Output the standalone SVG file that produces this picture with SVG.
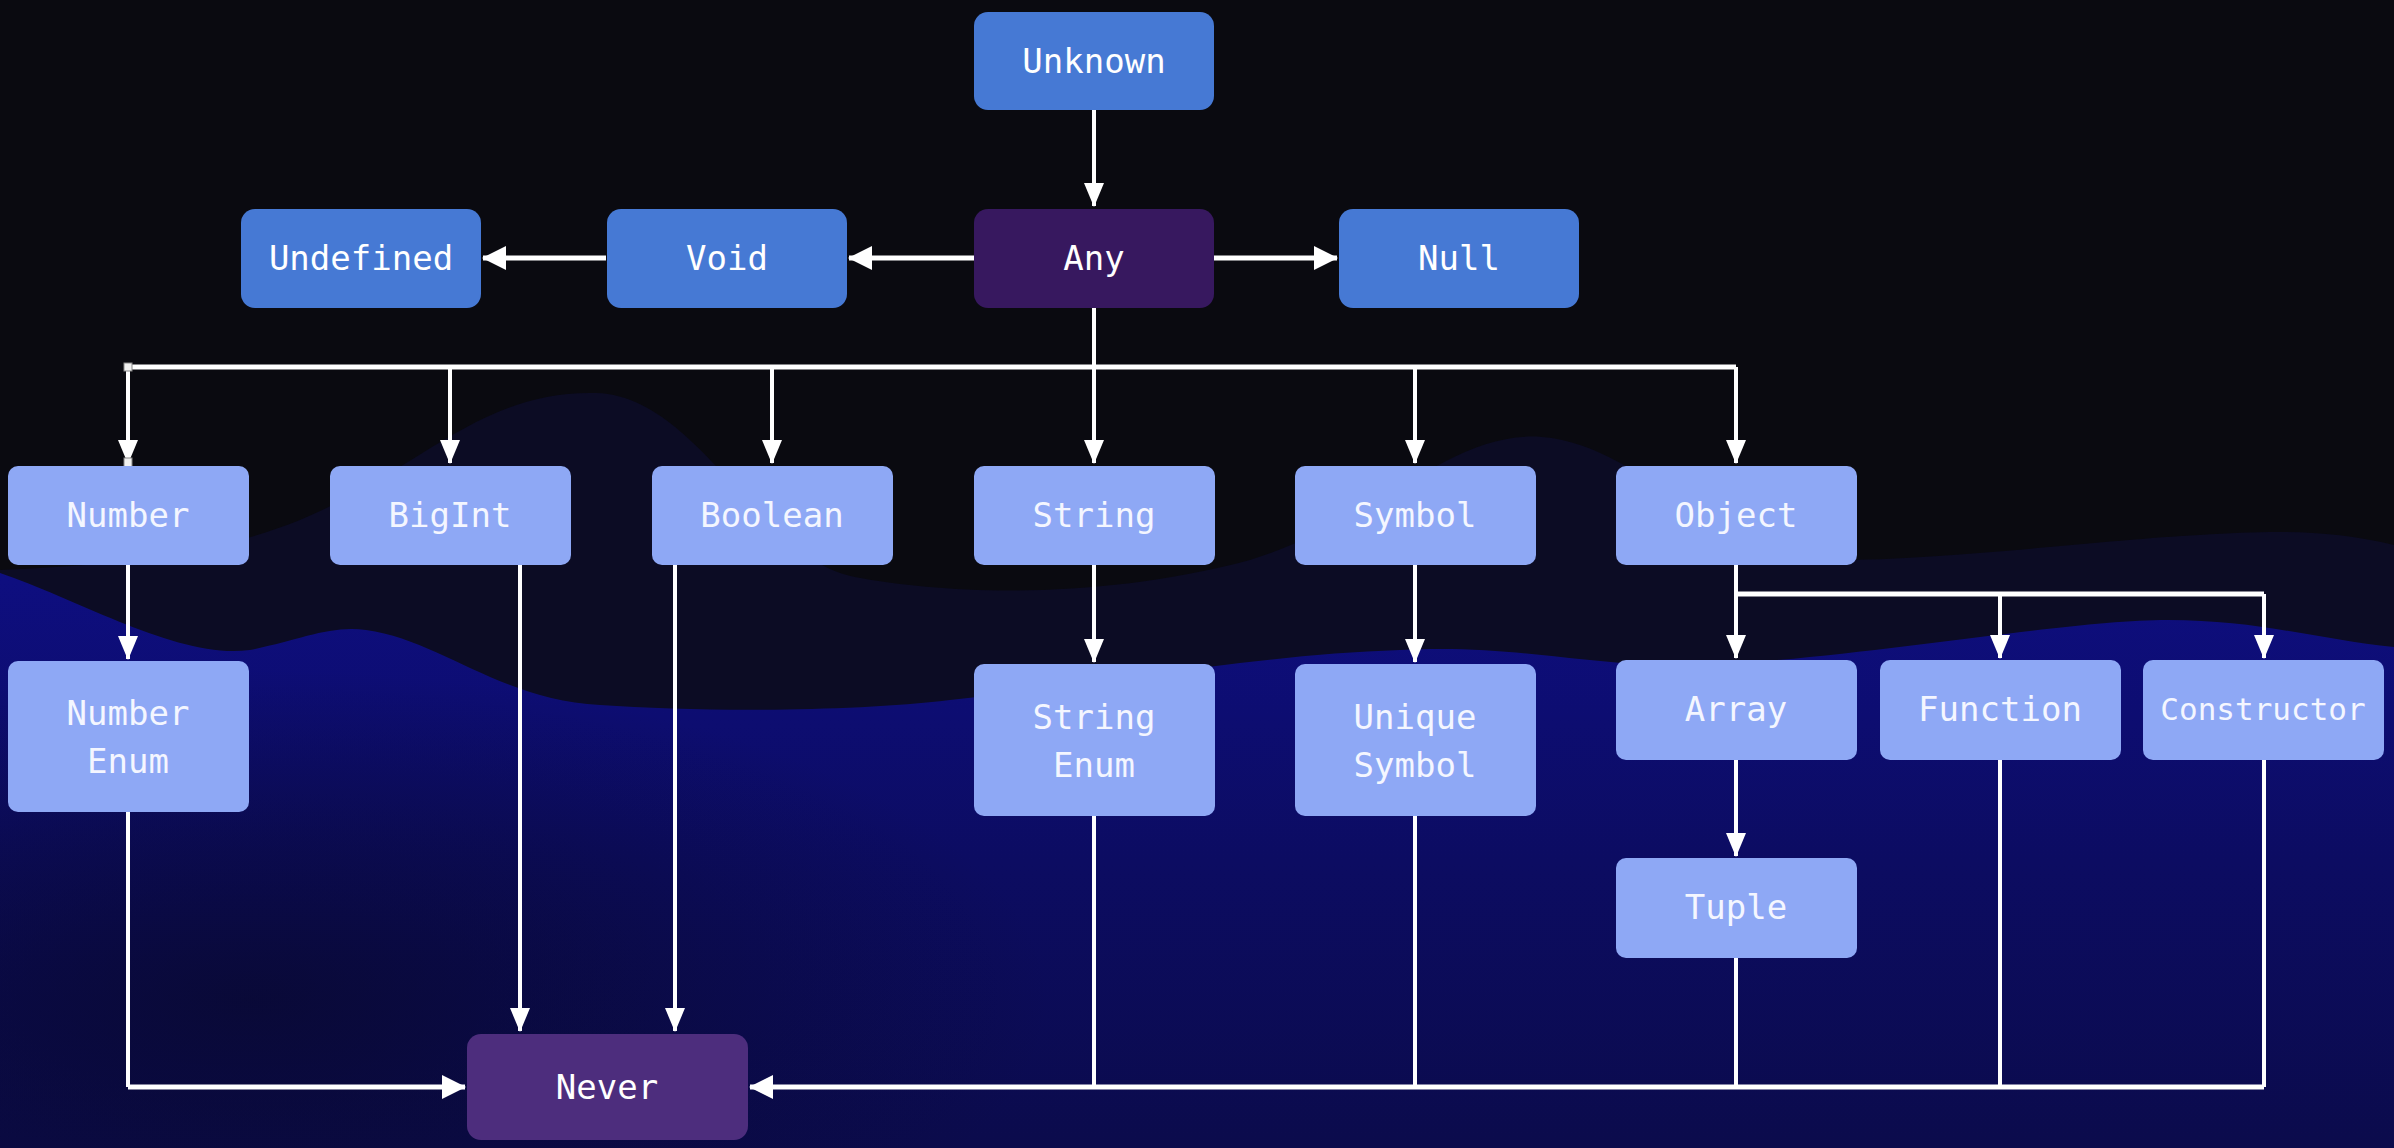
<svg xmlns="http://www.w3.org/2000/svg" width="2394" height="1148" viewBox="0 0 2394 1148">
<style>
.dark{fill:#4679d4}
.any{fill:#37185f}
.never{fill:#4d2d7d}
.light{fill:#8ea8f5}
.lbl{font-family:"DejaVu Sans Mono","Liberation Mono",monospace;font-size:34px;fill:#ffffff;text-anchor:middle;dominant-baseline:central}
.lbl2{fill:#f4f6ff}
.c{fill:none;stroke:#ffffff;stroke-width:4}
.ct{fill:none;stroke:#ffffff;stroke-width:5}
</style>
<defs>
<marker id="ah" markerUnits="userSpaceOnUse" markerWidth="24" markerHeight="20" refX="23" refY="10" orient="auto">
<path d="M0 0 L24 10 L0 20 Z" fill="#ffffff"/>
</marker>
<marker id="ahw" markerUnits="userSpaceOnUse" markerWidth="24" markerHeight="24" refX="23" refY="12" orient="auto">
<path d="M0 0 L24 12 L0 24 Z" fill="#ffffff"/>
</marker>
<linearGradient id="blue" x1="0" y1="0" x2="0" y2="1">
<stop offset="0" stop-color="#0e0e80"/>
<stop offset="0.5" stop-color="#0c0c62"/>
<stop offset="1" stop-color="#0b0b4c"/>
</linearGradient>
<radialGradient id="shade" cx="0.5" cy="0.5" r="0.5">
<stop offset="0" stop-color="#08082a" stop-opacity="0.7"/>
<stop offset="1" stop-color="#08082a" stop-opacity="0"/>
</radialGradient>
</defs>

<g id="background">
<rect x="0" y="0" width="2394" height="1148" fill="#0a0a10"/>
<path d="M0 570 C100 565 200 560 300 520 C420 470 480 390 596 393 C700 396 760 560 855 577 C950 595 1100 600 1250 560 C1380 520 1450 430 1542 437 C1640 444 1720 560 1832 560 C1950 560 2100 540 2200 535 C2280 530 2330 530 2394 545 V1148 H0 Z" fill="#0c0c24"/>
<path d="M0 573 C80 600 180 660 250 650 C300 640 330 625 366 630 C440 640 500 700 600 705 C700 712 850 712 950 700 C1100 685 1250 655 1400 650 C1500 645 1560 660 1650 665 C1800 670 2050 620 2168 620 C2260 620 2320 640 2394 647 V1148 H0 Z" fill="url(#blue)"/>
<ellipse cx="250" cy="1000" rx="800" ry="330" fill="url(#shade)"/>
</g>

<g id="connectors">
<path class="c" d="M1094 110 V206" marker-end="url(#ah)"/>
<path class="ct" d="M974 258 H849" marker-end="url(#ahw)"/>
<path class="ct" d="M606 258 H483" marker-end="url(#ahw)"/>
<path class="ct" d="M1214 258 H1337" marker-end="url(#ahw)"/>
<path class="c" d="M1094 308 V367"/>
<path class="ct" d="M128 367 H1736"/>
<path class="c" d="M128 367 V463" marker-end="url(#ah)"/>
<path class="c" d="M450 367 V463" marker-end="url(#ah)"/>
<path class="c" d="M772 367 V463" marker-end="url(#ah)"/>
<path class="c" d="M1094 367 V463" marker-end="url(#ah)"/>
<path class="c" d="M1415 367 V463" marker-end="url(#ah)"/>
<path class="c" d="M1736 367 V463" marker-end="url(#ah)"/>
<path class="c" d="M128 565 V659" marker-end="url(#ah)"/>
<path class="c" d="M1094 565 V662" marker-end="url(#ah)"/>
<path class="c" d="M1415 565 V662" marker-end="url(#ah)"/>
<path class="c" d="M1736 565 V594"/>
<path class="ct" d="M1736 594 H2264"/>
<path class="c" d="M1736 594 V658" marker-end="url(#ah)"/>
<path class="c" d="M2000 594 V658" marker-end="url(#ah)"/>
<path class="c" d="M2264 594 V658" marker-end="url(#ah)"/>
<path class="c" d="M1736 760 V856" marker-end="url(#ah)"/>
<path class="c" d="M520 565 V1031" marker-end="url(#ah)"/>
<path class="c" d="M675 565 V1031" marker-end="url(#ah)"/>
<path class="c" d="M128 812 V1087"/>
<path class="ct" d="M128 1087 H465" marker-end="url(#ahw)"/>
<path class="c" d="M2264 760 V1087"/>
<path class="ct" d="M2264 1087 H750" marker-end="url(#ahw)"/>
<path class="c" d="M1094 816 V1087"/>
<path class="c" d="M1415 816 V1087"/>
<path class="c" d="M1736 958 V1087"/>
<path class="c" d="M2000 760 V1087"/>
<rect x="124" y="363" width="8" height="8" fill="#f0f0f0" stroke="#888" stroke-width="1"/>
<rect x="124" y="458" width="8" height="9" fill="#f0f0f0" stroke="#888" stroke-width="1"/>
</g>

<g id="unknown"><rect class="dark" x="974" y="12" width="240" height="98" rx="14"/><text class="lbl" x="1094" y="61">Unknown</text></g>
<g id="any"><rect class="any" x="974" y="209" width="240" height="99" rx="14"/><text class="lbl" x="1094" y="258">Any</text></g>
<g id="void"><rect class="dark" x="607" y="209" width="240" height="99" rx="14"/><text class="lbl" x="727" y="258">Void</text></g>
<g id="undefined"><rect class="dark" x="241" y="209" width="240" height="99" rx="14"/><text class="lbl" x="361" y="258">Undefined</text></g>
<g id="null"><rect class="dark" x="1339" y="209" width="240" height="99" rx="14"/><text class="lbl" x="1459" y="258">Null</text></g>

<g id="number"><rect class="light" x="8" y="466" width="241" height="99" rx="10"/><text class="lbl lbl2" x="128" y="515">Number</text></g>
<g id="bigint"><rect class="light" x="330" y="466" width="241" height="99" rx="10"/><text class="lbl lbl2" x="450" y="515">BigInt</text></g>
<g id="boolean"><rect class="light" x="652" y="466" width="241" height="99" rx="10"/><text class="lbl lbl2" x="772" y="515">Boolean</text></g>
<g id="string"><rect class="light" x="974" y="466" width="241" height="99" rx="10"/><text class="lbl lbl2" x="1094" y="515">String</text></g>
<g id="symbol"><rect class="light" x="1295" y="466" width="241" height="99" rx="10"/><text class="lbl lbl2" x="1415" y="515">Symbol</text></g>
<g id="object"><rect class="light" x="1616" y="466" width="241" height="99" rx="10"/><text class="lbl lbl2" x="1736" y="515">Object</text></g>

<g id="number-enum"><rect class="light" x="8" y="661" width="241" height="151" rx="10"/><text class="lbl lbl2" x="128" y="713">Number</text><text class="lbl lbl2" x="128" y="761">Enum</text></g>
<g id="string-enum"><rect class="light" x="974" y="664" width="241" height="152" rx="10"/><text class="lbl lbl2" x="1094" y="717">String</text><text class="lbl lbl2" x="1094" y="765">Enum</text></g>
<g id="unique-symbol"><rect class="light" x="1295" y="664" width="241" height="152" rx="10"/><text class="lbl lbl2" x="1415" y="717">Unique</text><text class="lbl lbl2" x="1415" y="765">Symbol</text></g>
<g id="array"><rect class="light" x="1616" y="660" width="241" height="100" rx="10"/><text class="lbl lbl2" x="1736" y="709">Array</text></g>
<g id="function"><rect class="light" x="1880" y="660" width="241" height="100" rx="10"/><text class="lbl lbl2" x="2000" y="709">Function</text></g>
<g id="constructor"><rect class="light" x="2143" y="660" width="241" height="100" rx="10"/><text class="lbl lbl2" x="2263" y="709" style="font-size:31px">Constructor</text></g>
<g id="tuple"><rect class="light" x="1616" y="858" width="241" height="100" rx="10"/><text class="lbl lbl2" x="1736" y="907">Tuple</text></g>

<g id="never"><rect class="never" x="467" y="1034" width="281" height="106" rx="14"/><text class="lbl" x="607" y="1087">Never</text></g>
</svg>
